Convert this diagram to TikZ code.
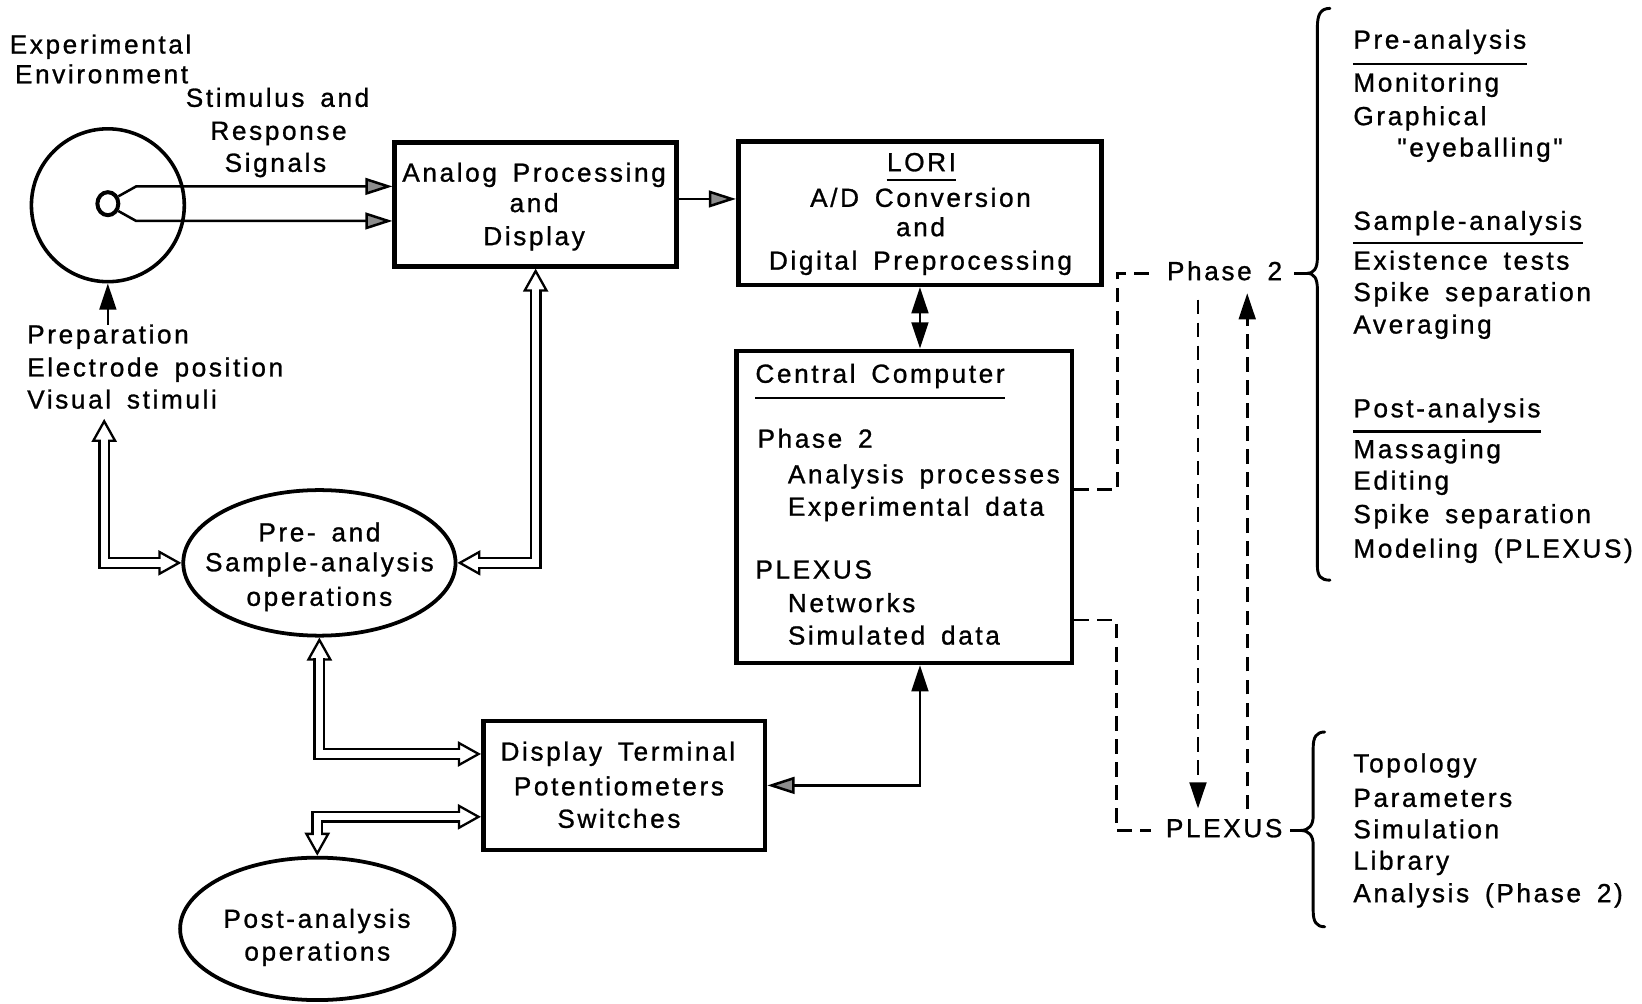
\documentclass[tikz,border=0pt]{standalone}
\usepackage{fontspec}
\setmainfont{Liberation Sans}[LetterSpace=10,WordSpace=1.6,FakeBold=1,Ligatures=TeXOff]
\usetikzlibrary{arrows.meta,shapes.geometric}

\tikzset{
  gtip/.tip={Triangle[length=13pt,width=8pt,fill=black!45]},
  btip/.tip={Triangle[length=12.5pt,width=8pt]},
  otip/.tip={Triangle[length=11pt,width=12pt,fill=white,line width=1.1pt]},
  box/.style={draw,rectangle,line width=2.2pt,inner sep=0},
  oval/.style={draw,ellipse,line width=1.8pt,inner sep=0},
  tx/.style={inner sep=0,text height=9.1pt,text depth=2.6pt},
  lt/.style={tx,anchor=west},
  conn/.style={line width=1.2pt},
  dashline/.style={line width=1.3pt,dash pattern=on 7pt off 4pt},
  ul/.style={line width=1.2pt},
  bracepath/.style={line width=1.4pt,line cap=round},
}

% hollow double-line arrow with heads at both ends
\newcommand\dbarrow[1]{%
  \draw[line width=1.1pt,otip-otip] #1;
  \draw[line width=5.7pt,shorten <=10pt,shorten >=10pt] #1;
  \draw[white,line width=3.5pt,shorten <=9pt,shorten >=9pt] #1;
}

\begin{document}
\begin{tikzpicture}[x=0.5pt,y=-0.5pt,font=\fontsize{12.5}{15.5}\selectfont]
\useasboundingbox (0,0) rectangle (1568,958);

% ---- experimental environment
\node[draw,circle,line width=1.7pt,minimum size=73pt,inner sep=0] (env) at (103,196) {};
\node[draw,ellipse,line width=1.9pt,minimum width=10pt,minimum height=11pt,inner sep=0] (elec) at (103,194.5) {};
\node[tx] (envA) at (96,44.6) {Experimental};
\node[tx] (envB) at (97,73) {Environment};

\node[tx] (sigA) at (265,95.5) {Stimulus and};
\node[tx] (sigB) at (266,127) {Response};
\node[tx] (sigC) at (263,157.6) {Signals};

\node[lt] (prepA) at (25.6,321.5) {Preparation};
\node[lt] (prepB) at (25.6,353) {Electrode position};
\node[lt] (prepC) at (25.6,383.6) {Visual stimuli};

% ---- boxes
\node[box,minimum width=134.5pt,minimum height=59pt] (analog) at (511.5,195.3) {};
\node[tx] (anA) at (510,167) {Analog Processing};
\node[tx] (anB) at (510,196) {and};
\node[tx] (anC) at (510,227.6) {Display};

\node[box,minimum width=173.5pt,minimum height=68.5pt] (lori) at (878.5,203.5) {};
\node[tx] (loriT) at (880,157) {LORI};
\node[tx] (loriA) at (879,191) {A/D Conversion};
\node[tx] (loriB) at (879,219) {and};
\node[tx] (loriC) at (879,251) {Digital Preprocessing};
\draw[ul] ([yshift=-1.4pt]loriT.south west) -- ([yshift=-1.4pt]loriT.south east);

\node[box,minimum width=160pt,minimum height=149pt] (cc) at (863.5,484) {};
\node[lt] (ccT) at (721,359) {Central Computer};
\draw[ul] ([yshift=-4.4pt]ccT.south west) -- ([yshift=-4.4pt]ccT.south east);
\node[lt] (ccA) at (723,421) {Phase 2};
\node[lt] (ccB) at (752,455) {Analysis processes};
\node[lt] (ccC) at (752,486) {Experimental data};
\node[lt] (ccD) at (721,546) {PLEXUS};
\node[lt] (ccE) at (752,578) {Networks};
\node[lt] (ccF) at (752,609) {Simulated data};

\node[box,minimum width=134.5pt,minimum height=61.5pt] (disp) at (596,750) {};
\node[tx] (dA) at (590,719.8) {Display Terminal};
\node[tx] (dB) at (591,753) {Potentiometers};
\node[tx] (dC) at (591,784) {Switches};

% ---- ellipses
\node[oval,minimum width=130pt,minimum height=69.5pt] (pre) at (305,537.5) {};
\node[tx] (preA) at (305,510.5) {Pre- and};
\node[tx] (preB) at (305,539) {Sample-analysis};
\node[tx] (preC) at (305,572) {operations};

\node[oval,minimum width=131pt,minimum height=68pt] (post) at (303,887) {};
\node[tx] (postA) at (302.7,879.5) {Post-analysis};
\node[tx] (postB) at (303,910.8) {operations};

% ---- solid connectors
\coordinate (s1) at (130,178);
\coordinate (s2) at (130,211);
\draw[conn,-gtip] (elec.35) -- (s1) -- (s1 -| analog.west);
\draw[conn,-gtip] (elec.-35) -- (s2) -- (s2 -| analog.west);
\coordinate (prep) at (103,310);
\draw[conn,-btip] (prep) -- (env.south);
\draw[conn,-gtip] (analog.east |- 0,190) -- (lori.west |- 0,190);
\draw[conn,btip-btip] (lori.south) -- (lori.south |- cc.north);
\draw[conn,btip-gtip] (lori.south |- cc.south) |- (disp.east);

% ---- hollow double arrows
\coordinate (vs) at (99.5,400);
\dbarrow{(vs) |- (pre.west)}
\dbarrow{(analog.south) |- (pre.east)}
\dbarrow{(pre.south) |- ([yshift=15pt]disp.west)}
\dbarrow{(post.north) |- ([yshift=-15pt]disp.west)}

% ---- phase 2 / PLEXUS links
\node[lt] (ph2) at (1114,261) {Phase 2};
\node[lt] (plx) at (1113,793) {PLEXUS};
\draw[dashline] (cc.east |- 0,467.5) -| ([xshift=-23.5pt]ph2.west) -- ([xshift=-5.5pt]ph2.west);
\draw[dashline] (cc.east |- 0,592) -| ([xshift=-23.5pt]plx.west) -- ([xshift=-7pt]plx.west);
\coordinate (d1a) at (1144,286);
\coordinate (d1b) at (1144,772);
\draw[dashline,-btip] (d1a) -- (d1b);
\coordinate (u1a) at (1191,773);
\coordinate (u1b) at (1191,280);
\draw[dashline,-btip] (u1a) -- (u1b);

% ---- braces
\coordinate (b1tip) at (1248,261);
\draw[bracepath] (1270,8) .. controls (1261,8) and (1258,14) .. (1258,26) -- (1258,246)
  .. controls (1258,256) and (1255,261) .. (b1tip)
  .. controls (1255,261) and (1258,266) .. (1258,276) -- (1258,540)
  .. controls (1258,550) and (1261,554) .. (1270,554);
\draw[conn] (1236,261) -- (b1tip);
\coordinate (b2tip) at (1242,793);
\draw[bracepath] (1265,699) .. controls (1257,699) and (1254,704) .. (1254,714) -- (1254,779)
  .. controls (1254,788) and (1250,793) .. (b2tip)
  .. controls (1250,793) and (1254,798) .. (1254,807) -- (1254,870)
  .. controls (1254,880) and (1257,885) .. (1265,885);
\draw[conn] (1232,793) -- (b2tip);

% ---- analysis lists
\node[lt] (r1) at (1292,40) {Pre-analysis};
\draw[ul] ([yshift=-4.4pt]r1.south west) -- ([yshift=-4.4pt]r1.south east);
\node[lt] (r2) at (1292,81) {Monitoring};
\node[lt] (r3) at (1292,113) {Graphical};
\node[lt] (r4) at (1334,143) {"eyeballing"};
\node[lt] (r5) at (1292,213) {Sample-analysis};
\draw[ul] ([yshift=-3.4pt]r5.south west) -- ([yshift=-3.4pt]r5.south east);
\node[lt] (r6) at (1292,251) {Existence tests};
\node[lt] (r7) at (1292,281) {Spike separation};
\node[lt] (r8) at (1292,312) {Averaging};
\node[lt] (r9) at (1292,392) {Post-analysis};
\draw[ul] ([yshift=-3.9pt]r9.south west) -- ([yshift=-3.9pt]r9.south east);
\node[lt] (r10) at (1292,431) {Massaging};
\node[lt] (r11) at (1292,461) {Editing};
\node[lt] (r12) at (1292,493) {Spike separation};
\node[lt] (r13) at (1292,526) {Modeling (PLEXUS)};

\node[lt] (p1) at (1292,731) {Topology};
\node[lt] (p2) at (1292,764) {Parameters};
\node[lt] (p3) at (1292,794) {Simulation};
\node[lt] (p4) at (1292,824) {Library};
\node[lt] (p5) at (1292,855) {Analysis (Phase 2)};

\end{tikzpicture}
\end{document}
